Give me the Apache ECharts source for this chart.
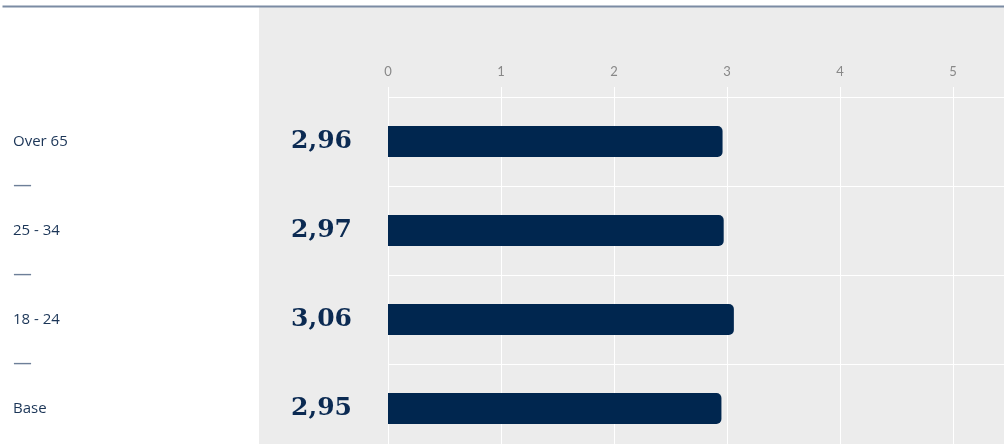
<!DOCTYPE html>
<html>
<head>
<meta charset="utf-8">
<script src="https://cdn.jsdelivr.net/npm/echarts@6/dist/echarts.min.js"></script>
<style>
  html, body { margin: 0; padding: 0; background: #fff; }
  #chart { width: 1004px; height: 444px; }
</style>
</head>
<body>
<div id="chart"></div>
<script>
// age groups, top to bottom
var categories = ['Over 65', '25 - 34', '18 - 24', 'Base'];
var values = [2.96, 2.97, 3.06, 2.95];
var xTicks = [0, 1, 2, 3, 4, 5];

var navy = '#00264f';

var option = {
    backgroundColor: '#fff',
    animation: false,
    graphic: [{
        type: 'rect',
        left: 259, top: 7,
        shape: { width: 745, height: 437 },
        style: { fill: '#ececec' },
        silent: true, z: -10
    }, {
        type: 'line',
        left: 0, top: 4,
        shape: { x1: 0, y1: 0, x2: 1004, y2: 0 },
        style: { stroke: '#7b8ba3', lineWidth: 2 },
        silent: true
    }],
    grid: {
        left: 388, width: 616, top: 97, height: 356,
        containLabel: false,
        outerBoundsMode: 'none'
    },
    xAxis: {
        type: 'value',
        position: 'top',
        min: 0,
        max: 5.45,
        interval: 1,
        axisLine: { show: false },
        axisTick: { show: true, length: 10, lineStyle: { color: '#fff' } },
        axisLabel: {
            showMaxLabel: false,
            margin: 19,
            color: '#888',
            fontSize: 13,
            fontFamily: 'Lato',
            formatter: function (v) {
                return xTicks.indexOf(v) >= 0 ? String(v) : '';
            }
        },
        splitLine: { show: true, lineStyle: { color: '#fff', width: 1 } }
    },
    yAxis: [{
        type: 'category',
        inverse: true,
        data: categories,
        axisLine: { show: false },
        axisTick: { show: false },
        splitLine: { show: true, lineStyle: { color: '#fff', width: 1 } },
        axisLabel: {
            align: 'left',
            margin: 375,
            color: '#1b3557',
            fontSize: 15,
            fontFamily: 'Open Sans'
        }
    }, {
        // separators between the age groups
        type: 'value',
        inverse: true,
        min: 0,
        max: 4,
        interval: 1,
        position: 'left',
        axisLine: { show: false },
        axisTick: { show: false },
        splitLine: { show: false },
        axisLabel: {
            align: 'left',
            margin: 375,
            color: '#6d7f98',
            fontSize: 19,
            fontFamily: 'DejaVu Sans',
            showMinLabel: true,
            showMaxLabel: true,
            formatter: function (v) {
                return (v > 0 && v < categories.length) ? '\u2014' : '';
            }
        }
    }],
    series: [{
        type: 'bar',
        yAxisIndex: 0,
        data: values,
        barWidth: 31,
        itemStyle: { color: navy, borderRadius: [0, 5, 5, 0] },
        label: {
            show: true,
            position: 'left',
            distance: 36,
            color: '#0b2a52',
            fontSize: 25,
            fontWeight: 'bold',
            fontFamily: 'DejaVu Serif',
            formatter: function (p) {
                return p.value.toFixed(2).replace('.', ',');
            }
        }
    }]
};

var myChart = echarts.init(document.getElementById('chart'));
myChart.setOption(option);
</script>
</body>
</html>
